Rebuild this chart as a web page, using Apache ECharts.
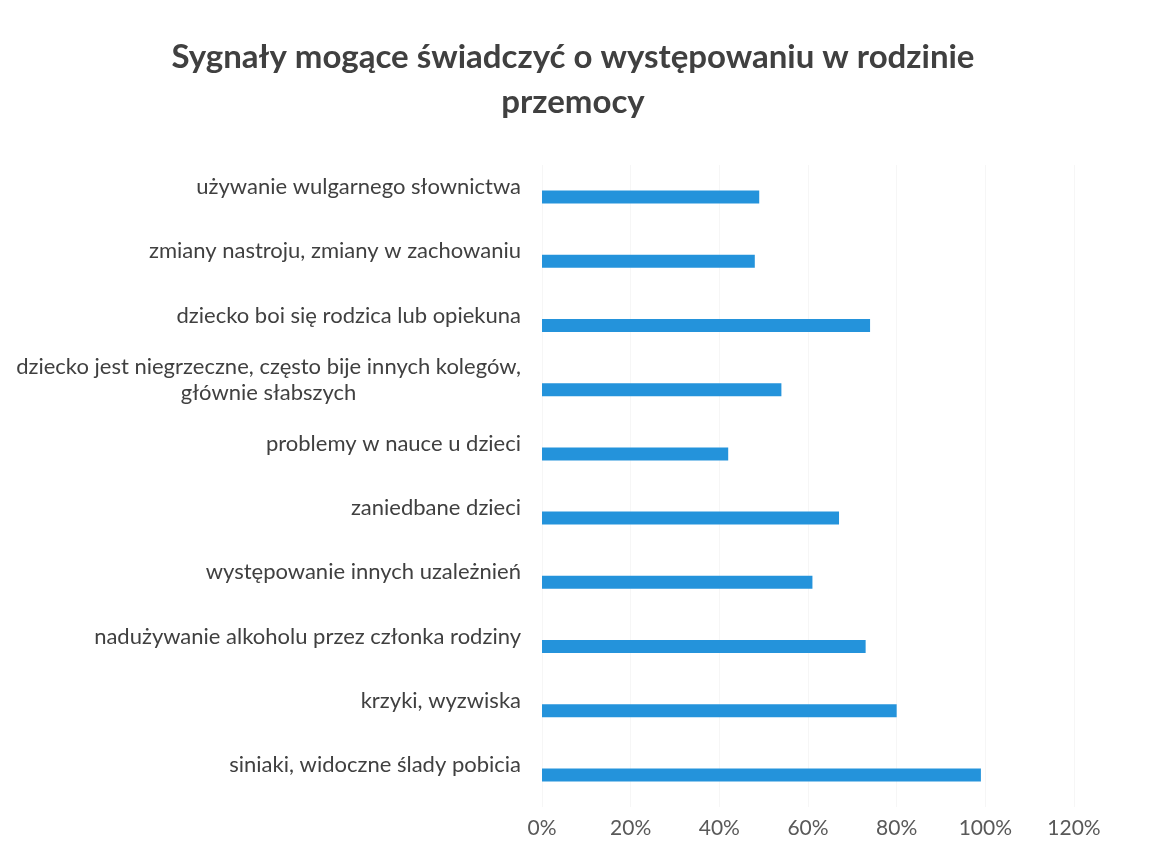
<!DOCTYPE html>
<html>
<head>
<meta charset="utf-8">
<script src="https://cdn.jsdelivr.net/npm/echarts@6/dist/echarts.min.js"></script>
<style>
  html, body { margin: 0; padding: 0; background: #ffffff; }
  #chart { width: 1160px; height: 850px; }
</style>
</head>
<body>
<div id="chart"></div>
<script>
const titleText = "Sygnały mogące świadczyć o występowaniu w rodzinie\nprzemocy";
const categories = [
  "używanie wulgarnego słownictwa",
  "zmiany nastroju, zmiany w zachowaniu",
  "dziecko boi się rodzica lub opiekuna",
  "dziecko jest niegrzeczne, często bije innych kolegów,\ngłównie słabszych",
  "problemy w nauce u dzieci",
  "zaniedbane dzieci",
  "występowanie innych uzależnień",
  "nadużywanie alkoholu przez członka rodziny",
  "krzyki, wyzwiska",
  "siniaki, widoczne ślady pobicia"
];
const values = [49, 48, 74, 54, 42, 67, 61, 73, 80, 99];
const xTicks = [0, 20, 40, 60, 80, 100, 120];

const chart = echarts.init(document.getElementById('chart'), null, { renderer: 'canvas' });
chart.setOption({
  backgroundColor: '#ffffff',
  animation: false,
  title: {
    text: titleText,
    left: 568,
    top: 30,
    textAlign: 'center',
    textStyle: {
      fontFamily: 'Lato',
      fontWeight: 'bold',
      fontSize: 33,
      color: '#404040',
      lineHeight: 45
    }
  },
  grid: { left: 542, right: 86, top: 165, bottom: 43, containLabel: false },
  xAxis: {
    type: 'value',
    min: xTicks[0],
    max: xTicks[xTicks.length - 1],
    interval: 20,
    axisLine: { show: false },
    axisTick: { show: false },
    splitLine: { show: true, lineStyle: { color: '#f6f6f6', width: 1 } },
    axisLabel: {
      formatter: v => v + '%',
      fontFamily: 'Lato',
      fontSize: 21,
      color: '#595959',
      margin: 11
    }
  },
  yAxis: {
    type: 'category',
    inverse: true,
    data: categories,
    axisLine: { show: false },
    axisTick: { show: false },
    axisLabel: {
      fontFamily: 'Lato',
      fontSize: 22,
      color: '#404040',
      margin: 21,
      lineHeight: 26,
      align: 'right',
      formatter: v => v.split('\n').map(l => '{c|' + l + '}').join('\n') + '\n{gap|}',
      rich: {
        c: { align: 'center', fontFamily: 'Lato', fontSize: 22, color: '#404040', lineHeight: 26 },
        gap: { height: 20, lineHeight: 20, fontSize: 1 }
      }
    }
  },
  series: [{
    type: 'bar',
    data: values,
    barWidth: 13,
    itemStyle: { color: '#2493db' }
  }]
});
</script>
</body>
</html>
